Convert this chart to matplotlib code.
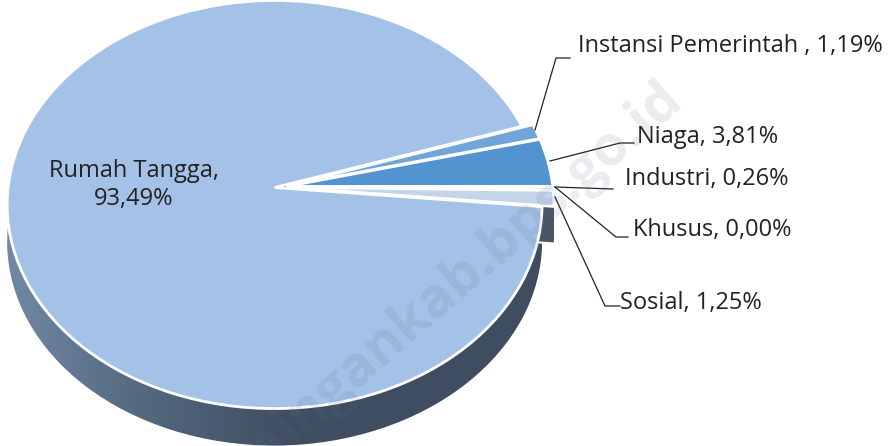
import numpy as np
import matplotlib
matplotlib.use('Agg')
import matplotlib.pyplot as plt
from matplotlib.colors import LinearSegmentedColormap
from matplotlib.transforms import Transform

names = ['Rumah Tangga', 'Instansi Pemerintah ', 'Niaga', 'Industri', 'Khusus', 'Sosial']
values = [93.49, 1.19, 3.81, 0.26, 0.00, 1.25]
labels = ['Rumah Tangga,\n93,49%', 'Instansi Pemerintah , 1,19%', 'Niaga, 3,81%',
          'Industri, 0,26%', 'Khusus, 0,00%', 'Sosial, 1,25%']
colors = ['#a4c1e7', '#6fa5d8', '#5393cf', '#a9c3e2', '#bcd0e8', '#c4d5ea']

W, H = 894, 446
CX, CY, RX = 280.5, 187.0, 266.5
PERSP = 0.0833
DEPTH = 37


# unit circle of the pie -> picture pixels, tilted with a bit of perspective
class Tilt(Transform):
    input_dims = 2
    output_dims = 2
    has_inverse = False

    def __init__(self, dy=0):
        super().__init__()
        self.dy = dy

    def transform_non_affine(self, values):
        u, v = values[:, 0], values[:, 1]
        d = 1 + PERSP*v
        return np.column_stack([CX + RX*u/d, CY*(1 - v)/d + self.dy])


fig = plt.figure(figsize=(W/100, H/100), dpi=100)
ax = fig.add_axes([0, 0, 1, 1])
plt.rcParams['font.family'] = ['Open Sans', 'DejaVu Sans']

explode = [0.022, 0.022, 0.022, 0.022, 0.022, 0.022]
start = -5.4

# side of the Sosial slice, swept down
for dy in range(0, DEPTH + 1, 3):
    side, _ = ax.pie(values, explode=explode, startangle=start, counterclock=False, radius=1)
    for w in side[:5]:
        w.set_visible(False)
    side[5].set_transform(Tilt(dy) + ax.transData)
    side[5].set_linewidth(0)
    side[5].set_facecolor('#4a5566')
    side[5].set_zorder(1)

# side of the big slice, gradient clipped to the shifted wedge
cm = LinearSegmentedColormap.from_list('side', ['#738aa6', '#54697f', '#414f63', '#3f4d60', '#3f4d60'])
im = ax.imshow(np.linspace(0, 1, 256).reshape(1, -1), cmap=cm, extent=[0, 560, H, 0], aspect='auto', zorder=1)
ghost, _ = ax.pie(values, explode=explode, startangle=start, counterclock=False, radius=1)
for w in ghost:
    w.set_visible(False)
ghost[0].set_transform(Tilt(DEPTH) + ax.transData)
im.set_clip_path(ghost[0])

# top surface
tops, _ = ax.pie(values, explode=explode, colors=colors, startangle=start, counterclock=False, radius=1,
                 wedgeprops=dict(edgecolor='white', linewidth=2.0))
for w in tops:
    w.set_transform(Tilt() + ax.transData)
    w.set_zorder(2)

ax.set_aspect('auto')
ax.set_xlim(0, W)
ax.set_ylim(H, 0)
ax.axis('off')

# leader lines
leaders = [([535, 556, 570], [130, 58, 58]),
           ([550, 620, 634], [161, 143, 143]),
           ([555, 613], [187, 189]),
           ([555, 616, 628], [187, 237, 237]),
           ([555, 605, 620], [197, 306, 306])]
for lx, ly in leaders:
    ax.plot(lx, ly, color='#222222', lw=0.9, zorder=3, solid_joinstyle='miter')

fs = 17
ax.text(134, 185, labels[0], ha='center', va='center', fontsize=fs, color='#222222', linespacing=1.2, zorder=4)
ax.text(578, 46, labels[1], ha='left', va='center', fontsize=fs, color='#222222', zorder=4)
ax.text(637, 137, labels[2], ha='left', va='center', fontsize=fs, color='#222222', zorder=4)
ax.text(625, 179, labels[3], ha='left', va='center', fontsize=fs, color='#222222', zorder=4)
ax.text(633, 230, labels[4], ha='left', va='center', fontsize=fs, color='#222222', zorder=4)
ax.text(620, 303, labels[5], ha='left', va='center', fontsize=fs, color='#222222', zorder=4)

# watermark
ax.text(438, 297, 'kuningankab.bps.go.id', rotation=41, ha='center', va='center', fontsize=40,
        fontweight='bold', color='#5a6f8c', alpha=0.13, zorder=5, rotation_mode='anchor', clip_on=True)

plt.savefig('out.png', dpi=100)
